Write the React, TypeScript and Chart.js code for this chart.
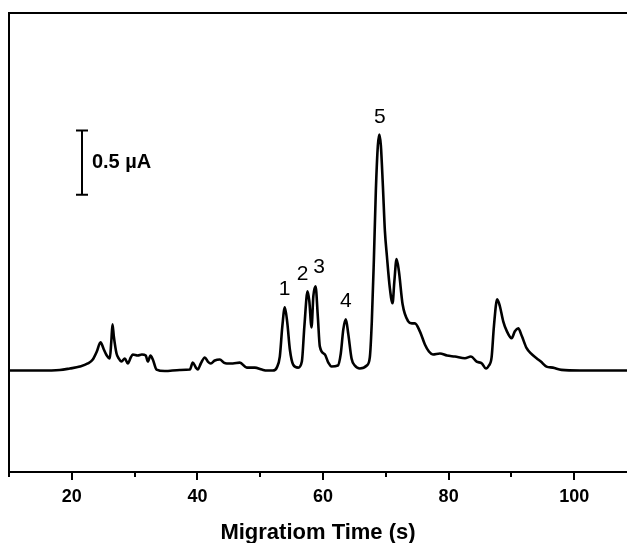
import React, { useEffect, useRef } from 'react';
import { Chart, registerables } from 'chart.js';

Chart.register(...registerables);

// Migration time (s)
const times = [
  10, 14.9, 18.09, 19.68, 21.27, 22.55, 23.34, 23.98, 24.57, 25.1, 25.57, 26.05, 26.29, 26.48, 26.69,
  27.12, 27.48, 27.91, 28.44, 28.92, 29.39, 29.71, 30.51, 31.15, 31.78, 32.1, 32.53, 32.9, 33.49,
  34.81, 37.2, 38.79, 39.27, 39.75, 40.06, 40.54, 41.18, 41.66, 42.13, 42.77, 43.57, 44.2, 44.68,
  45.64, 46.75, 47.87, 49.14, 50.26, 51.05, 52.0, 52.64, 53.12, 53.52, 53.92, 54.32, 54.72, 55.24,
  56.04, 56.63, 57.03, 57.54, 57.82, 58.17, 58.46, 58.81, 59.17, 59.49, 60.29, 60.84, 61.35, 62.36,
  62.83, 63.23, 63.63, 64.03, 64.54, 65.06, 65.86, 66.97, 67.45, 67.77, 68.09, 68.41, 68.73, 68.97,
  69.21, 69.53, 69.85, 70.17, 70.64, 71.07, 71.36, 71.71, 72.08, 72.67, 73.56, 74.15, 74.63, 75.42,
  76.22, 76.86, 77.5, 78.61, 79.73, 81.0, 82.6, 83.55, 84.46, 85.3, 85.94, 86.41, 86.84, 87.21,
  87.73, 88.16, 88.69, 89.28, 90.03, 90.55, 91.08, 91.67, 92.42, 93.1, 94.0, 94.68, 95.58, 96.59,
  97.97, 100.9, 104.07, 108.4,
];

// Current (µA, relative to baseline)
const current = [
  0, 0, 0.004, 0.016, 0.031, 0.055, 0.086, 0.148, 0.219, 0.164, 0.117, 0.094, 0.227, 0.359, 0.266,
  0.133, 0.094, 0.07, 0.094, 0.055, 0.102, 0.125, 0.117, 0.125, 0.117, 0.07, 0.117, 0.086, 0.008,
  -0.004, 0.004, 0.008, 0.062, 0.023, 0.008, 0.055, 0.102, 0.07, 0.055, 0.078, 0.086, 0.062, 0.055,
  0.055, 0.062, 0.023, 0.023, 0.008, 0, 0, 0.023, 0.109, 0.344, 0.492, 0.367, 0.164, 0.047,
  0.023, 0.07, 0.344, 0.617, 0.539, 0.336, 0.578, 0.656, 0.422, 0.188, 0.125, 0.062, 0.031, 0.039,
  0.133, 0.32, 0.398, 0.281, 0.094, 0.039, 0.016, 0.039, 0.102, 0.383, 0.852, 1.398, 1.75, 1.836,
  1.75, 1.438, 1.086, 0.891, 0.641, 0.523, 0.695, 0.867, 0.773, 0.516, 0.383, 0.367, 0.367, 0.305,
  0.203, 0.148, 0.125, 0.133, 0.117, 0.109, 0.096, 0.109, 0.07, 0.055, 0.016, 0.039, 0.102, 0.344,
  0.555, 0.5, 0.383, 0.305, 0.252, 0.305, 0.328, 0.266, 0.174, 0.133, 0.096, 0.07, 0.031, 0.023,
  0.005, 0, 0, 0,
];

const majorTicks = [20, 40, 60, 80, 100];
const minorTicks = [10, 30, 50, 70, 90];

const peakLabels = ['1', '2', '3', '4', '5'];
const peakLabelX = [53.9, 56.74, 59.38, 63.63, 69.04];
const peakLabelY = [0.633, 0.75, 0.8, 0.54, 1.97];

const scaleBarX = 21.6;
const scaleBarY = [1.367, 1.867];
const scaleBarText = '0.5 µA';
const scaleBarTextX = 23.2;

const xTitle = 'Migratiom Time (s)';
const xMin = 10;
const xMax = 108.4;
const yMin = -0.789;
const yMax = 2.781;

const FONT = "'Liberation Sans', Arial, sans-serif";

const decorPlugin = {
  id: 'decor',
  afterDatasetsDraw(chart: any) {
    const { ctx, chartArea, scales } = chart;
    const xs = scales.x;
    const ys = scales.y;
    ctx.save();
    ctx.strokeStyle = '#000';
    ctx.lineWidth = 2;
    // frame (left + top)
    ctx.beginPath();
    ctx.moveTo(chartArea.left, chartArea.bottom + 3);
    ctx.lineTo(chartArea.left, chartArea.top);
    ctx.lineTo(chartArea.right, chartArea.top);
    ctx.stroke();
    // minor ticks
    ctx.beginPath();
    minorTicks.forEach((v) => {
      const px = Math.round(xs.getPixelForValue(v));
      ctx.moveTo(px, chartArea.bottom);
      ctx.lineTo(px, chartArea.bottom + 5);
    });
    ctx.stroke();
    // peak labels
    ctx.fillStyle = '#000';
    ctx.font = `21px ${FONT}`;
    ctx.textAlign = 'center';
    ctx.textBaseline = 'middle';
    peakLabels.forEach((t, i) => {
      ctx.fillText(t, xs.getPixelForValue(peakLabelX[i]), ys.getPixelForValue(peakLabelY[i]));
    });
    // scale bar
    const bx = Math.round(xs.getPixelForValue(scaleBarX));
    const by0 = ys.getPixelForValue(scaleBarY[0]);
    const by1 = ys.getPixelForValue(scaleBarY[1]);
    ctx.beginPath();
    ctx.moveTo(bx, by0);
    ctx.lineTo(bx, by1);
    ctx.moveTo(bx - 6, by0);
    ctx.lineTo(bx + 6, by0);
    ctx.moveTo(bx - 6, by1);
    ctx.lineTo(bx + 6, by1);
    ctx.stroke();
    ctx.font = `bold 20px ${FONT}`;
    ctx.textAlign = 'left';
    ctx.fillText(scaleBarText, xs.getPixelForValue(scaleBarTextX), (by0 + by1) / 2);
    ctx.restore();
  },
};

export default function App() {
  const ref = useRef<HTMLCanvasElement>(null);
  useEffect(() => {
    if (!ref.current) return;
    const chart = new Chart(ref.current, {
      type: 'line',
      data: {
        datasets: [
          {
            data: times.map((t, i) => ({ x: t, y: current[i] })),
            borderColor: '#000',
            borderWidth: 2.6,
            pointRadius: 0,
            cubicInterpolationMode: 'monotone',
            fill: false,
          },
        ],
      },
      options: {
        animation: false,
        responsive: false,
        devicePixelRatio: 1,
        layout: { padding: { top: 13, left: 9, right: 0, bottom: 0 } },
        plugins: { legend: { display: false }, tooltip: { enabled: false } },
        scales: {
          x: {
            type: 'linear',
            min: xMin,
            max: xMax,
            afterBuildTicks: (axis: any) => {
              axis.ticks = majorTicks.map((v) => ({ value: v }));
            },
            ticks: {
              color: '#000',
              font: { family: FONT, size: 18, weight: 'bold' },
              padding: 6,
              maxRotation: 0,
            },
            grid: {
              display: true,
              drawOnChartArea: false,
              drawTicks: true,
              tickLength: 8,
              color: '#000',
              lineWidth: 2,
            },
            border: { display: true, color: '#000', width: 2 },
            title: {
              display: true,
              text: xTitle,
              color: '#000',
              font: { family: FONT, size: 22, weight: 'bold' },
              padding: { top: 6, bottom: 0 },
            },
          },
          y: {
            type: 'linear',
            display: false,
            min: yMin,
            max: yMax,
          },
        },
      },
      plugins: [decorPlugin],
    });
    return () => chart.destroy();
  }, []);
  return (
    <div style={{ position: 'absolute', left: 0, top: 0, width: 627, height: 543, overflow: 'hidden', background: '#fff' }}>
      <canvas ref={ref} width={627} height={546} style={{ display: 'block' }} />
    </div>
  );
}
